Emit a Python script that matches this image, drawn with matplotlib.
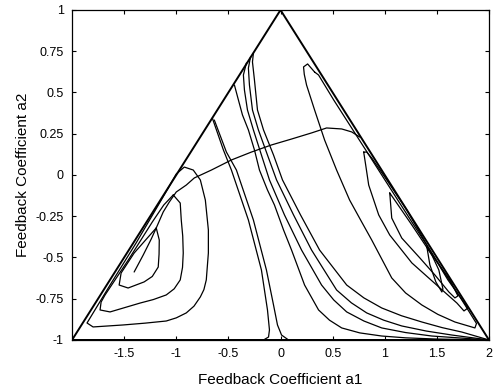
import numpy as np
import matplotlib
matplotlib.use('Agg')
import matplotlib.pyplot as plt

plt.rcParams['font.family'] = ['Liberation Sans', 'DejaVu Sans']

# stability triangle of the second order section
triangle_a1 = [-2.0, 0.0, 2.0, -2.0]
triangle_a2 = [-1.0, 1.0, -1.0, -1.0]

# left lobe, inner to outer
left_inner = [(-1.192, -0.321), (-1.163, -0.394), (-1.165, -0.480), (-1.173, -0.558),
              (-1.230, -0.615), (-1.308, -0.648), (-1.462, -0.685), (-1.548, -0.667),
              (-1.529, -0.594), (-1.404, -0.473), (-1.269, -0.376), (-1.192, -0.321)]
left_middle = [(-1.029, -0.121), (-0.962, -0.170), (-0.952, -0.273), (-0.938, -0.370),
               (-0.933, -0.473), (-0.940, -0.560), (-0.962, -0.636), (-1.020, -0.690),
               (-1.096, -0.727), (-1.220, -0.755), (-1.346, -0.776), (-1.635, -0.830),
               (-1.731, -0.818), (-1.721, -0.770), (-1.683, -0.727), (-1.460, -0.515),
               (-1.230, -0.285), (-1.120, -0.182), (-1.029, -0.121)]
left_outer = [(-1.077, -0.079), (-1.000, 0.006), (-0.923, 0.048), (-0.837, 0.030),
              (-0.769, -0.030), (-0.721, -0.152), (-0.692, -0.333), (-0.692, -0.473),
              (-0.712, -0.636), (-0.735, -0.695), (-0.769, -0.739), (-0.830, -0.795),
              (-0.904, -0.836), (-1.000, -0.866), (-1.096, -0.885), (-1.300, -0.898),
              (-1.510, -0.909), (-1.798, -0.921), (-1.856, -0.897), (-1.635, -0.667),
              (-1.385, -0.412), (-1.144, -0.152), (-1.077, -0.079)]

# adaptation path
path = [(-1.404, -0.588), (-1.317, -0.485), (-1.240, -0.388), (-1.192, -0.321),
        (-1.125, -0.224), (-1.067, -0.164), (-1.000, -0.103), (-0.904, -0.061),
        (-0.827, -0.018), (-0.663, 0.030), (-0.471, 0.091), (-0.279, 0.139),
        (-0.087, 0.182), (0.106, 0.218), (0.298, 0.255), (0.442, 0.285),
        (0.587, 0.279), (0.683, 0.261), (0.760, 0.230)]

# ridge in the middle
mid_1 = [(-0.654, 0.345), (-0.548, 0.152), (-0.471, 0.030), (-0.308, -0.273),
         (-0.183, -0.576), (-0.125, -0.818), (-0.106, -0.939), (-0.115, -0.982),
         (-0.163, -1.0)]
mid_2 = [(-0.635, 0.333), (-0.519, 0.139), (-0.423, 0.030), (-0.260, -0.273),
         (-0.135, -0.576), (-0.067, -0.788), (-0.029, -0.909), (0.010, -0.970),
         (0.077, -1.0)]

# contours running into the (2, -1) corner
fan_1 = [(-0.442, 0.545), (-0.404, 0.455), (-0.365, 0.364), (-0.308, 0.273),
         (-0.250, 0.152), (-0.202, 0.030), (-0.125, -0.091), (-0.058, -0.182),
         (0.029, -0.333), (0.106, -0.455), (0.231, -0.667), (0.365, -0.818),
         (0.470, -0.880), (0.587, -0.927), (0.760, -0.957), (0.971, -0.976),
         (1.200, -0.987), (1.481, -0.994), (2.0, -1.0)]
fan_2 = [(-0.327, 0.679), (-0.356, 0.606), (-0.346, 0.515), (-0.317, 0.394),
         (-0.260, 0.273), (-0.183, 0.121), (-0.106, -0.030), (0.038, -0.242),
         (0.202, -0.455), (0.394, -0.667), (0.510, -0.757), (0.635, -0.830),
         (0.800, -0.885), (0.971, -0.927), (1.200, -0.955), (1.452, -0.976),
         (2.0, -1.0)]
fan_3 = [(-0.288, 0.715), (-0.308, 0.648), (-0.298, 0.545), (-0.269, 0.394),
         (-0.212, 0.273), (-0.125, 0.121), (-0.038, -0.030), (0.125, -0.242),
         (0.298, -0.455), (0.538, -0.697), (0.680, -0.775), (0.827, -0.836),
         (0.990, -0.880), (1.163, -0.915), (1.400, -0.946), (1.644, -0.970),
         (2.0, -1.0)]
fan_4 = [(-0.260, 0.739), (-0.269, 0.685), (-0.250, 0.576), (-0.221, 0.394),
         (-0.163, 0.273), (-0.067, 0.121), (0.019, -0.030), (0.192, -0.242),
         (0.375, -0.455), (0.635, -0.667), (0.800, -0.745), (0.971, -0.806),
         (1.160, -0.853), (1.356, -0.891), (1.550, -0.925), (1.740, -0.952),
         (2.0, -1.0)]

# right lobe, outer to inner
right_outer = [(0.327, 0.624), (0.260, 0.673), (0.221, 0.655), (0.228, 0.610),
               (0.250, 0.545), (0.327, 0.394), (0.423, 0.212), (0.538, 0.030),
               (0.663, -0.152), (0.779, -0.285), (0.875, -0.394), (1.067, -0.624),
               (1.200, -0.715), (1.356, -0.788), (1.510, -0.845), (1.673, -0.891),
               (1.865, -0.927), (1.880, -0.900), (1.740, -0.758), (1.433, -0.455),
               (1.125, -0.152), (0.817, 0.152), (0.510, 0.455), (0.365, 0.606),
               (0.327, 0.624)]
right_middle = [(0.798, 0.139), (0.817, 0.061), (0.846, -0.061), (0.942, -0.242),
                (1.048, -0.364), (1.260, -0.533), (1.519, -0.679), (1.692, -0.776),
                (1.760, -0.824), (1.798, -0.806), (1.606, -0.636), (1.404, -0.424),
                (1.212, -0.212), (1.019, -0.030), (0.875, 0.103), (0.827, 0.139),
                (0.798, 0.139)]
right_inner = [(1.048, -0.109), (1.067, -0.261), (1.163, -0.382), (1.337, -0.503),
               (1.481, -0.606), (1.615, -0.709), (1.673, -0.745), (1.702, -0.733),
               (1.625, -0.636), (1.452, -0.485), (1.260, -0.303), (1.115, -0.170),
               (1.048, -0.109)]
right_core = [(1.404, -0.436), (1.433, -0.545), (1.490, -0.648), (1.548, -0.709),
              (1.558, -0.691), (1.519, -0.576), (1.452, -0.485), (1.404, -0.436)]

x_ticks = [-1.5, -1, -0.5, 0, 0.5, 1, 1.5, 2]
x_tick_labels = ['-1.5', '-1', '-0.5', '0', '0.5', '1', '1.5', '2']
y_ticks = [-1, -0.75, -0.5, -0.25, 0, 0.25, 0.5, 0.75, 1]
y_tick_labels = ['-1', '-0.75', '-0.5', '-0.25', '0', '0.25', '0.5', '0.75', '1']


def draw_curve(ax, pts, lw=0.9):
    pts = np.array(pts)
    ax.plot(pts[:, 0], pts[:, 1], color='black', lw=lw,
            solid_joinstyle='round', solid_capstyle='round')


fig = plt.figure(figsize=(4.97, 3.92), dpi=100)
ax = fig.add_axes([0.1449, 0.1327, 0.8390, 0.8418])

ax.plot(triangle_a1, triangle_a2, color='black', lw=1.4)

curves = [left_inner, left_middle, left_outer, path, mid_1, mid_2,
          fan_1, fan_2, fan_3, fan_4,
          right_outer, right_middle, right_inner, right_core]
for c in curves:
    draw_curve(ax, c)

ax.set_xlim(-2, 2)
ax.set_ylim(-1, 1)
ax.set_xticks(x_ticks)
ax.set_xticklabels(x_tick_labels)
ax.set_yticks(y_ticks)
ax.set_yticklabels(y_tick_labels)
ax.tick_params(direction='in', length=3, width=0.8, top=True, right=True,
               labelsize=9, pad=6)
for s in ax.spines.values():
    s.set_linewidth(0.9)

ax.set_xlabel('Feedback Coefficient a1', fontsize=11, labelpad=9)
ax.set_ylabel('Feedback Coefficient a2', fontsize=11, labelpad=4)

fig.savefig('out.png', dpi=100)
